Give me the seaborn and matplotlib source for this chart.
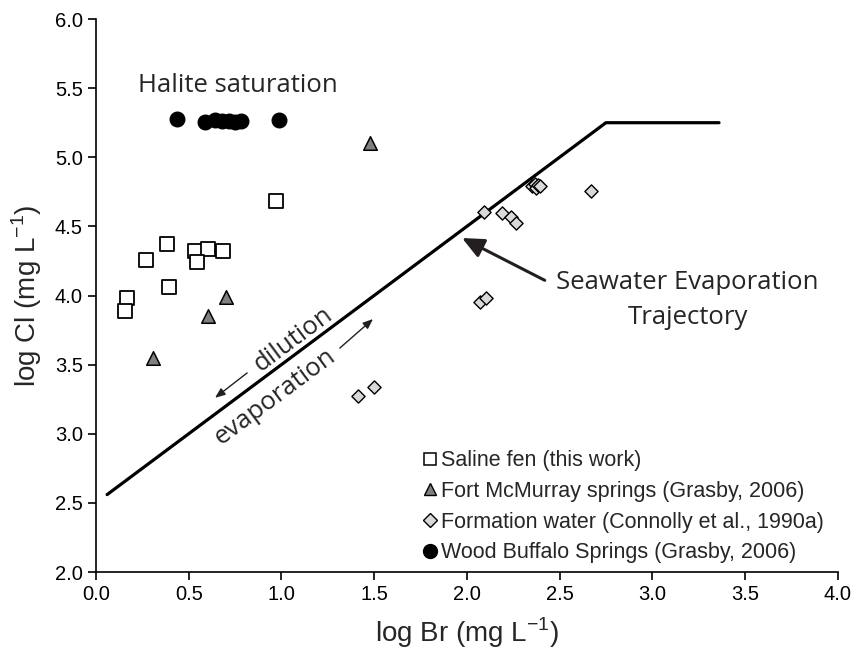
import matplotlib
matplotlib.use("Agg")
import matplotlib.pyplot as plt
from matplotlib.lines import Line2D
import seaborn as sns

# Saline fen (this work)
fen_br = [0.971, 0.381, 0.270, 0.534, 0.606, 0.683, 0.547, 0.394, 0.165, 0.156]
fen_cl = [4.686, 4.370, 4.260, 4.320, 4.340, 4.320, 4.240, 4.064, 3.980, 3.888]

# Fort McMurray springs (Grasby, 2006)
fm_br = [1.478, 0.700, 0.606, 0.306]
fm_cl = [5.100, 3.990, 3.850, 3.545]

# Formation water (Connolly et al., 1990a)
fw_br = [2.093, 2.188, 2.237, 2.264, 2.350, 2.365, 2.375, 2.385, 2.395, 2.670, 2.071, 2.104, 1.415, 1.500]
fw_cl = [4.606, 4.599, 4.566, 4.527, 4.790, 4.810, 4.780, 4.800, 4.790, 4.756, 3.950, 3.985, 3.275, 3.340]

# Wood Buffalo Springs (Grasby, 2006)
wb_br = [0.435, 0.590, 0.640, 0.680, 0.720, 0.750, 0.780, 0.985]
wb_cl = [5.275, 5.255, 5.270, 5.260, 5.265, 5.255, 5.262, 5.268]

# Seawater evaporation trajectory
sw_br = [0.06, 2.75, 3.36]
sw_cl = [2.56, 5.25, 5.25]

x_ticks = [0.0, 0.5, 1.0, 1.5, 2.0, 2.5, 3.0, 3.5, 4.0]
y_ticks = [2.0, 2.5, 3.0, 3.5, 4.0, 4.5, 5.0, 5.5, 6.0]

legend_labels = ["Saline fen (this work)",
                 "Fort McMurray springs (Grasby, 2006)",
                 "Formation water (Connolly et al., 1990a)",
                 "Wood Buffalo Springs (Grasby, 2006)"]

sns.set_theme(style="ticks")
plt.rcParams["font.family"] = ["Liberation Sans", "DejaVu Sans"]
plt.rcParams["mathtext.fontset"] = "custom"
plt.rcParams["mathtext.rm"] = "Liberation Sans"

fig = plt.figure(figsize=(8.57, 6.67), dpi=100)
ax = fig.add_axes([0.112, 0.1424, 0.8655, 0.8291])

sns.lineplot(x=sw_br, y=sw_cl, ax=ax, color="black", linewidth=2.3,
             sort=False, estimator=None)

groups = [
    (fen_br, fen_cl, "s", "white", 95, 1.3),
    (fm_br, fm_cl, "^", "#808080", 95, 1.1),
    (fw_br, fw_cl, "D", "#d9d9d9", 45, 1.0),
    (wb_br, wb_cl, "o", "black", 110, 1.0),
]
for bx, cy, mk, fc, sz, lw in groups:
    sns.scatterplot(x=bx, y=cy, ax=ax, marker=mk, s=sz, color=fc,
                    edgecolor="black", linewidth=lw, zorder=3)

ax.set_xlim(0, 4)
ax.set_ylim(2, 6)
ax.set_xticks(x_ticks)
ax.set_yticks(y_ticks)
ax.set_xticklabels([f"{v:.1f}" for v in x_ticks])
ax.set_yticklabels([f"{v:.1f}" for v in y_ticks])
ax.tick_params(axis="both", labelsize=14.5, length=6, width=1.2, direction="out",
               colors="black")
for side in ("left", "bottom"):
    ax.spines[side].set_linewidth(1.2)
    ax.spines[side].set_color("black")
sns.despine(ax=ax)

ax.set_xlabel("log Br (mg L$^{\\mathregular{-1}}$)", fontsize=20, labelpad=8)
ax.set_ylabel("log Cl (mg L$^{\\mathregular{-1}}$)", fontsize=20, labelpad=8)

ann_font = ["Open Sans", "DejaVu Sans"]
ax.text(0.763, 5.52, "Halite saturation", fontsize=18.5, family=ann_font,
        ha="center", va="center")
ax.text(3.19, 3.967, "Seawater Evaporation\nTrajectory", fontsize=18.5,
        family=ann_font, ha="center", va="center", linespacing=1.55)
ax.annotate("", xy=(1.974, 4.416), xytext=(2.42, 4.11),
            arrowprops=dict(arrowstyle="-|>,head_length=1.1,head_width=0.5",
                            color="#231f20", lw=2.2, shrinkA=0, shrinkB=0))

ax.text(1.063, 3.68, "dilution", fontsize=18.5, family=ann_font,
        ha="center", va="center", rotation=36.7, rotation_mode="anchor")
ax.text(0.965, 3.265, "evaporation", fontsize=18.5, family=ann_font,
        ha="center", va="center", rotation=36.7, rotation_mode="anchor")
ax.annotate("", xy=(0.642, 3.26), xytext=(0.815, 3.44),
            arrowprops=dict(arrowstyle="-|>,head_length=0.5,head_width=0.2",
                            color="#231f20", lw=1.0, shrinkA=0, shrinkB=0))
ax.annotate("", xy=(1.494, 3.83), xytext=(1.315, 3.62),
            arrowprops=dict(arrowstyle="-|>,head_length=0.5,head_width=0.2",
                            color="#231f20", lw=1.0, shrinkA=0, shrinkB=0))

handles = [
    Line2D([], [], ls="none", marker="s", ms=9, mfc="white", mec="black", mew=1.1),
    Line2D([], [], ls="none", marker="^", ms=9, mfc="#808080", mec="black", mew=1.0),
    Line2D([], [], ls="none", marker="D", ms=7, mfc="#d9d9d9", mec="black", mew=1.0),
    Line2D([], [], ls="none", marker="o", ms=10, mfc="black", mec="black"),
]
ax.legend(handles, legend_labels, loc="lower left", bbox_to_anchor=(0.43, 0.0),
          frameon=False, fontsize=15.5, handlelength=0.6, handletextpad=0.2,
          labelspacing=0.45, borderaxespad=0.0)

fig.savefig("out.png", dpi=100)
